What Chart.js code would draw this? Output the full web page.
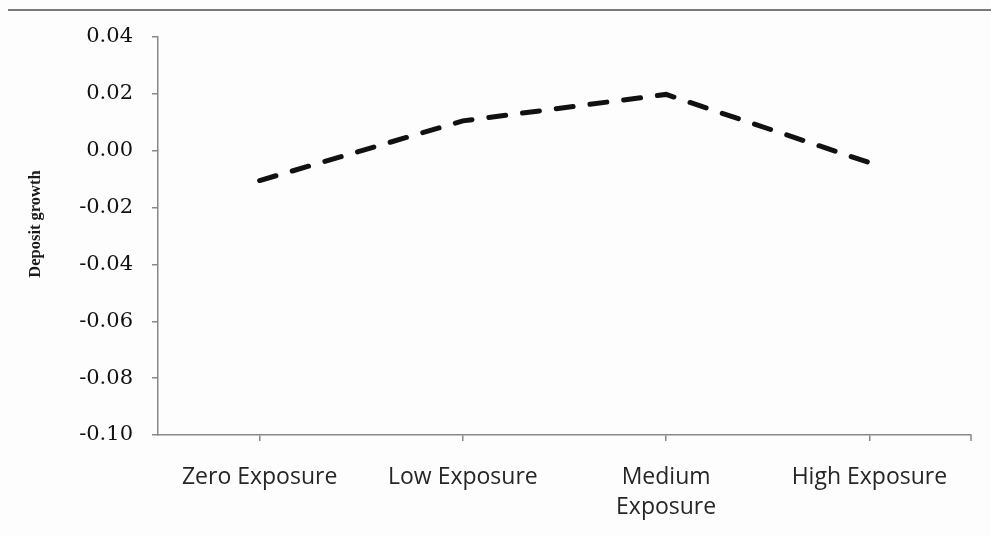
<!DOCTYPE html>
<html>
<head>
<meta charset="utf-8">
<script src="https://cdn.jsdelivr.net/npm/chart.js@4"></script>
<style>
  html, body { margin: 0; padding: 0; background: #fdfdfd; }
  #wrap { position: relative; width: 991px; height: 537px; }
  #rule { position: absolute; left: 8px; right: 0; top: 9px; height: 2px; background: #7a7a7a; }
  canvas { display: block; }
</style>
</head>
<body>
<div id="wrap">
  <div id="rule"></div>
  <canvas id="c" width="991" height="537"></canvas>
</div>
<script>
const categories = ['Zero Exposure', 'Low Exposure', ['Medium', 'Exposure'], 'High Exposure'];
const depositGrowth = [-0.0105, 0.0105, 0.0198, -0.0042];
const yMin = -0.10;
const yMax = 0.04;
const yStep = 0.02;
const yTitle = 'Deposit growth';

const extras = {
  id: 'extras',
  afterDraw(chart) {
    const { ctx, chartArea } = chart;
    ctx.save();
    ctx.strokeStyle = '#888';
    ctx.lineWidth = 1.5;
    ctx.beginPath();
    ctx.moveTo(chartArea.right, chartArea.bottom);
    ctx.lineTo(chartArea.right, chartArea.bottom + 6);
    ctx.stroke();
    ctx.translate(36, 224);
    ctx.rotate(-Math.PI / 2);
    ctx.fillStyle = '#1a1a1a';
    ctx.font = 'bold 16.5px "Liberation Serif"';
    ctx.textAlign = 'center';
    ctx.textBaseline = 'middle';
    ctx.fillText(yTitle, 0, 0);
    ctx.restore();
  }
};

new Chart(document.getElementById('c'), {
  type: 'line',
  data: {
    labels: categories,
    datasets: [{
      data: depositGrowth,
      borderColor: '#111',
      borderWidth: 5,
      borderDash: [17, 17],
      borderCapStyle: 'round',
      pointRadius: 0,
      fill: false,
      tension: 0
    }]
  },
  options: {
    responsive: false,
    animation: false,
    devicePixelRatio: 1,
    layout: { padding: { top: 37, right: 20, bottom: 0, left: 0 } },
    plugins: { legend: { display: false }, tooltip: { enabled: false } },
    scales: {
      x: {
        offset: true,
        afterFit(s) { s.height = 102; },
        grid: { offset: false, drawOnChartArea: false, tickLength: 6, color: '#888', lineWidth: 1.5 },
        border: { color: '#888', width: 1.5 },
        ticks: {
          maxRotation: 0, autoSkip: false, padding: 22, color: '#262626',
          font: { family: 'Open Sans', size: 23, lineHeight: 1.3 }
        }
      },
      y: {
        min: yMin, max: yMax,
        afterFit(s) { s.width = 158; },
        grid: { drawOnChartArea: false, tickLength: 6, color: '#888', lineWidth: 1.5 },
        border: { color: '#888', width: 1.5 },
        ticks: {
          stepSize: yStep, padding: 19, color: '#111',
          font: { family: 'DejaVu Serif', size: 21 },
          callback: v => Number(v).toFixed(2)
        }
      }
    }
  },
  plugins: [extras]
});
</script>
</body>
</html>
